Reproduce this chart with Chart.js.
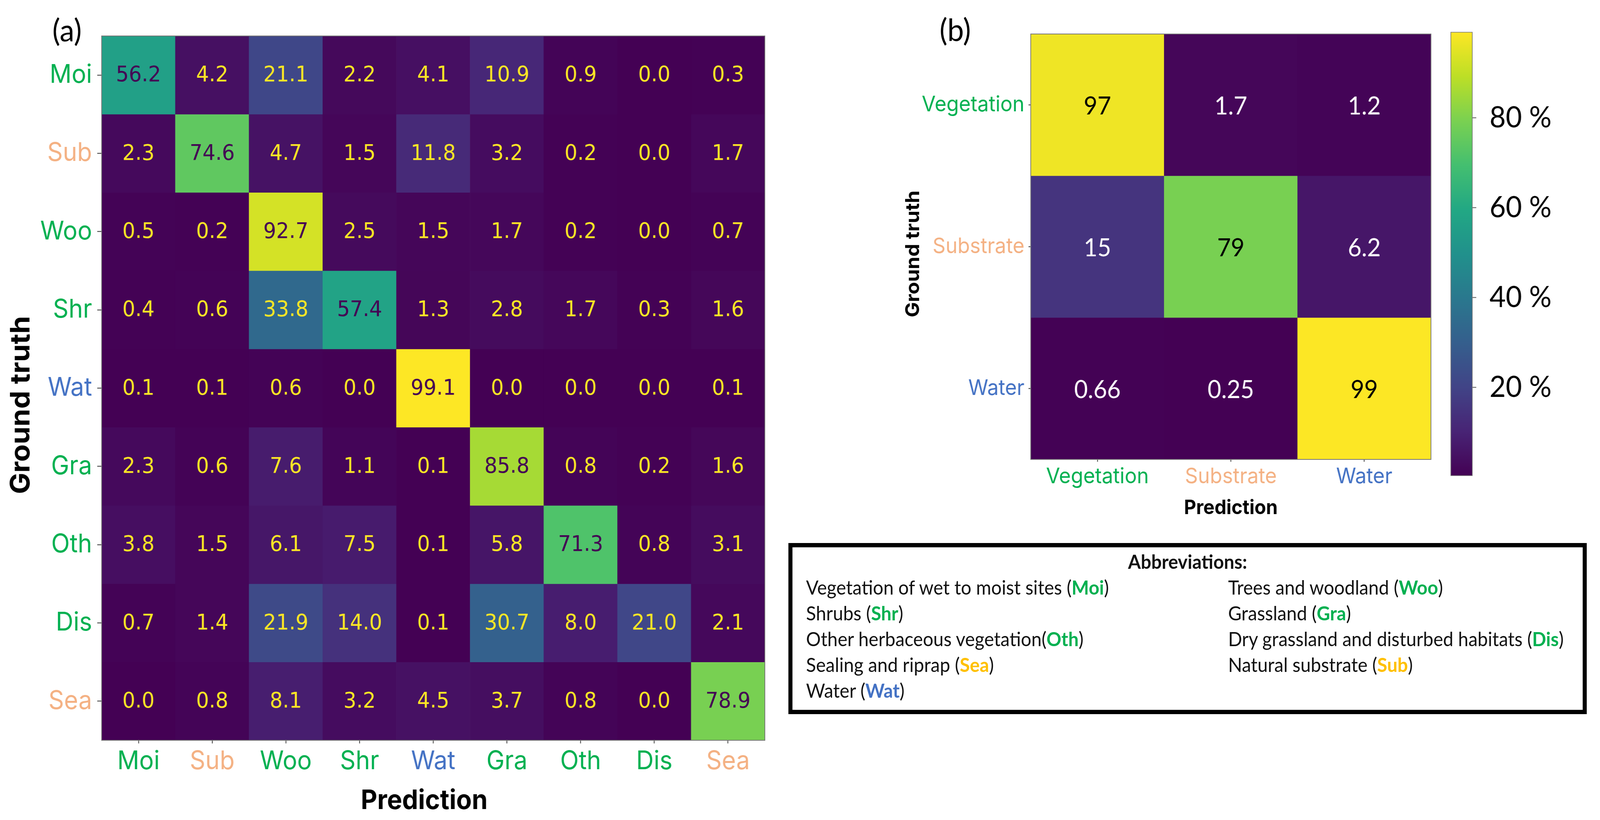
<!DOCTYPE html>
<html>
<head>
<meta charset="utf-8">
<script src="https://cdn.jsdelivr.net/npm/chart.js@4.4.1/dist/chart.umd.min.js"></script>
<style>
html,body{margin:0;background:#fff;overflow:hidden}
#page{position:absolute;left:0;top:0;width:4345px;height:2099px;transform-origin:0 0}
canvas{position:absolute}
.tag{position:absolute;font-family:Lato;font-size:80px;line-height:1;color:#000;transform:translate(-50%,-50%)}
#box{position:absolute;left:2141px;top:1390px;width:2168px;height:438px;box-sizing:border-box;border:11px solid #000;
  font-family:Lato;font-size:50px;color:#111;padding:3px 0 0 37px}
#box .head{font-weight:bold;text-align:center;line-height:66px;margin-left:-37px}
#box .grid{display:grid;grid-template-columns:1146px auto;grid-auto-rows:66px;line-height:66px;white-space:nowrap}
#box b.g{color:#00b050}
#box b.y{color:#ffc000}
#box b.b{color:#4472c4}
</style>
</head>
<body>
<div id="page">
<canvas id="chartA" style="left:0;top:0;width:2120px;height:2099px"></canvas>
<canvas id="chartB" style="left:2420px;top:0;width:1490px;height:1340px"></canvas>
<canvas id="chartCb" style="left:3900px;top:0;width:445px;height:1300px"></canvas>
<div class="tag" style="left:182px;top:75px">(a)</div>
<div class="tag" style="left:2594px;top:74px">(b)</div>
<div id="box">
  <div class="head">Abbreviations:</div>
  <div class="grid">
    <div>Vegetation of wet to moist sites (<b class="g">Moi</b>)</div>
    <div>Trees and woodland (<b class="g">Woo</b>)</div>
    <div>Shrubs (<b class="g">Shr</b>)</div>
    <div>Grassland (<b class="g">Gra</b>)</div>
    <div>Other herbaceous vegetation(<b class="g">Oth</b>)</div>
    <div>Dry grassland and disturbed habitats (<b class="g">Dis</b>)</div>
    <div>Sealing and riprap (<b class="y">Sea</b>)</div>
    <div>Natural substrate (<b class="y">Sub</b>)</div>
    <div>Water (<b class="b">Wat</b>)</div>
  </div>
</div>
</div>
<script>
// panel (a): 9 classes, rows = ground truth, columns = prediction (%)
const classesA=["Moi","Sub","Woo","Shr","Wat","Gra","Oth","Dis","Sea"]
const moi=[56.2,4.2,21.1,2.2,4.1,10.9,0.9,0.0,0.3]
const sub=[2.3,74.6,4.7,1.5,11.8,3.2,0.2,0.0,1.7]
const woo=[0.5,0.2,92.7,2.5,1.5,1.7,0.2,0.0,0.7]
const shr=[0.4,0.6,33.8,57.4,1.3,2.8,1.7,0.3,1.6]
const wat=[0.1,0.1,0.6,0.0,99.1,0.0,0.0,0.0,0.1]
const gra=[2.3,0.6,7.6,1.1,0.1,85.8,0.8,0.2,1.6]
const oth=[3.8,1.5,6.1,7.5,0.1,5.8,71.3,0.8,3.1]
const dis=[0.7,1.4,21.9,14.0,0.1,30.7,8.0,21.0,2.1]
const sea=[0.0,0.8,8.1,3.2,4.5,3.7,0.8,0.0,78.9]

// panel (b): 3 classes
const classesB=["Vegetation","Substrate","Water"]
const vegB=[97,1.7,1.2]
const subB=[15,79,6.2]
const watB=[0.66,0.25,99]

// colorbar of panel (b)
const cbRange=[0.25,99.1]
const cbTicks=[20,40,60,80]

// the window may be narrower than 4345px, so stretch the layout onto it
let kx=window.innerWidth/4345,ky=window.innerHeight/2099
document.querySelector("#page").style.transform="scale("+kx+","+ky+")"

const green="#00b050",salmon="#f4b183",blue="#4472c4"
const labelColor={Moi:green,Sub:salmon,Woo:green,Shr:green,Wat:blue,Gra:green,Oth:green,Dis:green,Sea:salmon,
  Vegetation:green,Substrate:salmon,Water:blue}

const viridis=["#440154","#482475","#414487","#355f8d","#2a788e","#21918c","#22a884","#44bf70","#7ad151","#bddf26","#fde725"]
let hex=h=>[1,3,5].map(i=>parseInt(h.substr(i,2),16))
let cmap=t=>{
  t=Math.max(0,Math.min(1,t))
  let p=t*10,i=Math.min(9,Math.floor(p)),f=p-i
  let a=hex(viridis[i]),b=hex(viridis[i+1])
  return "rgb("+a.map((c,n)=>Math.round(c+(b[n]-c)*f)).join(",")+")"
}

// writes the value in the middle of every cell, then a thin frame around the plot
const cellText={
  id:"cellText",
  afterDatasetsDraw(chart,args,opts){
    let ctx=chart.ctx
    chart.data.datasets.forEach((ds,i)=>{
      chart.getDatasetMeta(i).data.forEach((bar,j)=>{
        let c=bar.getCenterPoint()
        ctx.save()
        ctx.font=opts.font
        ctx.fillStyle=ds.textColors[j]
        ctx.textAlign="center"
        ctx.textBaseline="middle"
        ctx.fillText(ds.texts[j],c.x,c.y+(opts.dy||0))
        ctx.restore()
      })
    })
    let a=chart.chartArea
    ctx.save()
    ctx.strokeStyle="#777"
    ctx.lineWidth=2
    ctx.strokeRect(a.left,a.top,a.right-a.left,a.bottom-a.top)
    ctx.restore()
  }
}

let drawMatrix=(canvas,classes,rows,s)=>{
  let lo=s.lo,hi=s.hi,mid=(lo+hi)/2
  return new Chart(canvas,{
    type:"bar",
    data:{
      labels:classes,
      datasets:rows.map((row,i)=>({
        label:classes[i],
        data:row.map(()=>[i-0.5,i+0.5]),
        texts:row.map(s.fmt),
        textColors:row.map(v=>v<mid?s.lowText:s.highText),
        backgroundColor:row.map(v=>cmap((v-lo)/(hi-lo))),
        borderWidth:0,
        grouped:false,
        barPercentage:1,
        categoryPercentage:1
      }))
    },
    options:{
      responsive:false,
      animation:false,
      devicePixelRatio:1,
      layout:{padding:s.padding},
      plugins:{legend:{display:false},tooltip:{enabled:false},cellText:{font:s.cellFont,dy:s.dy}},
      scales:{
        x:{
          type:"category",
          offset:true,
          border:{color:"#777",width:2},
          grid:{offset:false,drawOnChartArea:false,tickLength:s.xTick,tickColor:"#333",tickWidth:2},
          ticks:{color:c=>labelColor[classes[c.index]],font:{family:"Inter",size:s.tickSize},padding:s.xPad,maxRotation:0,autoSkip:false},
          title:{display:true,text:s.xTitle,color:"#000",font:{family:"Inter",weight:"bold",size:s.xTitleSize},padding:{top:0,bottom:s.xTitlePad}},
          afterFit:sc=>{sc.height=s.xHeight}
        },
        y:{
          type:"linear",
          min:-0.5,
          max:classes.length-0.5,
          reverse:true,
          border:{color:"#777",width:2},
          afterBuildTicks:sc=>{sc.ticks=classes.map((c,i)=>({value:i}))},
          grid:{drawOnChartArea:false,tickLength:s.yTick,tickColor:"#333",tickWidth:2},
          ticks:{callback:v=>classes[v],color:c=>labelColor[classes[c.index]],font:{family:"Inter",size:s.tickSize},padding:s.yPad},
          title:{display:true,text:s.yTitle,color:"#000",font:{family:"Inter",weight:"bold",size:s.yTitleSize},padding:{top:s.yTitlePad,bottom:0}},
          afterFit:sc=>{sc.width=s.yWidth}
        }
      }
    },
    plugins:[cellText]
  })
}

// trailing spaces nudge the axis titles off-centre like in the original figure
drawMatrix(document.querySelector("#chartA"),classesA,[moi,sub,woo,shr,wat,gra,oth,dis,sea],{
  lo:0,hi:99.1,fmt:v=>v.toFixed(1),lowText:"#fde725",highText:"#440154",
  cellFont:'55px "DejaVu Sans"',dy:2,
  padding:{top:92,right:43,left:0,bottom:0},
  tickSize:66,xTick:8,xPad:7,yTick:12,yPad:14,
  xTitle:"Prediction   ",xTitleSize:69,xTitlePad:7,
  yTitle:"Ground truth     ",yTitleSize:73,yTitlePad:14,
  xHeight:204,yWidth:276
})

drawMatrix(document.querySelector("#chartB"),classesB,[vegB,subB,watB],{
  lo:cbRange[0],hi:cbRange[1],fmt:v=>String(v),lowText:"#ffffff",highText:"#000000",
  cellFont:'64px Lato',dy:4,
  padding:{top:87,right:24,left:0,bottom:0},
  tickSize:55,xTick:6,xPad:5,yTick:6,yPad:11,
  xTitle:"Prediction",xTitleSize:51,xTitlePad:9,
  yTitle:"Ground truth   ",yTitleSize:52,yTitlePad:29,
  xHeight:164,yWidth:379
})

new Chart(document.querySelector("#chartCb"),{
  type:"bar",
  data:{
    labels:[""],
    datasets:[{
      data:[cbRange],
      backgroundColor:c=>{
        let a=c.chart.chartArea
        if(!a) return viridis[0]
        let g=c.chart.ctx.createLinearGradient(0,a.bottom,0,a.top)
        viridis.forEach((col,i)=>g.addColorStop(i/10,col))
        return g
      },
      borderColor:"#777",
      borderWidth:2,
      borderSkipped:false,
      barPercentage:1,
      categoryPercentage:1
    }]
  },
  options:{
    responsive:false,
    animation:false,
    devicePixelRatio:1,
    layout:{padding:{left:39,top:47,bottom:62,right:46}},
    plugins:{legend:{display:false},tooltip:{enabled:false}},
    scales:{
      x:{display:false},
      y:{
        position:"right",
        min:cbRange[0],
        max:cbRange[1],
        border:{display:false},
        afterBuildTicks:sc=>{sc.ticks=cbTicks.map(v=>({value:v}))},
        grid:{drawOnChartArea:false,tickLength:10,tickColor:"#555",tickWidth:2},
        ticks:{callback:v=>v+" %",color:"#000",font:{family:"Lato",size:76},padding:36},
        afterFit:sc=>{sc.width=300}
      }
    }
  }
})
</script>
</body>
</html>
